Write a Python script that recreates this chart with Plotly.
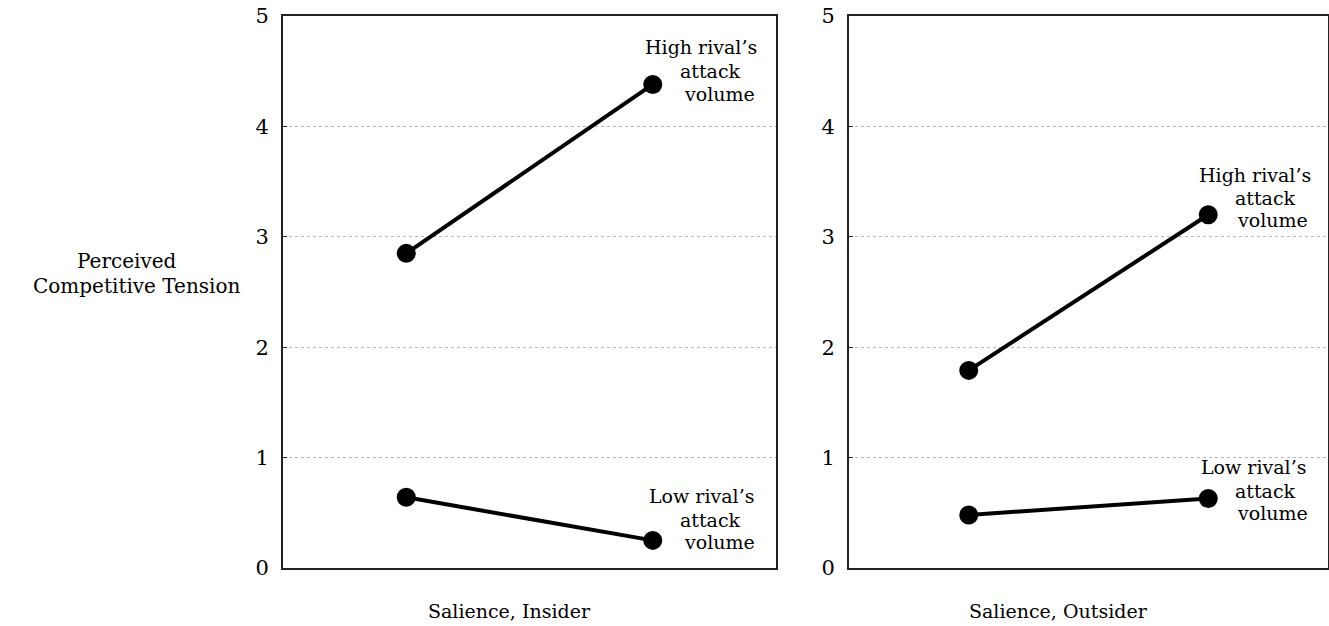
import plotly.graph_objects as go

# Data
conditions = [1, 2]  # positions of the two measurement points in each panel
insider_high = [2.85, 4.38]
insider_low = [0.64, 0.25]
outsider_high = [1.79, 3.20]
outsider_low = [0.48, 0.63]
y_ticks = [0, 1, 2, 3, 4, 5]

W, H = 1329, 626
FONT = "DejaVu Serif"

fig = go.Figure()

def add_series(xref, yref, ys):
    fig.add_trace(go.Scatter(
        x=conditions, y=ys, mode="lines+markers",
        xaxis=xref, yaxis=yref,
        line=dict(color="black", width=4),
        marker=dict(color="black", size=19),
        showlegend=False, hoverinfo="skip"))

add_series("x", "y", insider_high)
add_series("x", "y", insider_low)
add_series("x2", "y2", outsider_high)
add_series("x2", "y2", outsider_low)

y_dom = [(H - 568) / H, (H - 16) / H]
xd1 = [283 / W, 776 / W]
xd2 = [849 / W, 1328 / W]

xaxis_common = dict(range=[0.5, 2.5], showgrid=False, zeroline=False,
                    showticklabels=False, ticks="", showline=True,
                    linecolor="#222", linewidth=1.8, mirror=True,
                    automargin=False)
yaxis_common = dict(range=[0, 5], tickvals=y_ticks, showgrid=True,
                    gridcolor="#b8b8b8", griddash="dot", gridwidth=1,
                    zeroline=False, showline=True, linecolor="#222",
                    linewidth=1.8, mirror=True, ticks="inside", ticklen=4,
                    tickcolor="#222", ticklabelstandoff=8, automargin=False,
                    tickfont=dict(family=FONT, size=21, color="black"))

fig.update_layout(
    width=W, height=H,
    margin=dict(l=0, r=0, t=0, b=0, autoexpand=False),
    paper_bgcolor="white", plot_bgcolor="white",
    xaxis=dict(domain=xd1, **xaxis_common),
    yaxis=dict(domain=y_dom, anchor="x", **yaxis_common),
    xaxis2=dict(domain=xd2, anchor="y2", **xaxis_common),
    yaxis2=dict(domain=y_dom, anchor="x2", **yaxis_common),
)

def px_to_x(px, d):
    x0, x1 = d[0] * W, d[1] * W
    return 0.5 + (px - x0) / (x1 - x0) * 2.0

def py_to_y(py):
    return (568 - py) / 110.4

labels = [
    # text, pixel center x, pixel center y, panel
    ("High rival\u2019s", 701, 47, 1), ("attack", 710, 71, 1), ("volume", 719, 94, 1),
    ("Low rival\u2019s", 701, 496, 1), ("attack", 710, 520, 1), ("volume", 719, 542, 1),
    ("High rival\u2019s", 1255, 175, 2), ("attack", 1265, 198, 2), ("volume", 1272, 220, 2),
    ("Low rival\u2019s", 1253, 467, 2), ("attack", 1265, 491, 2), ("volume", 1272, 513, 2),
]
for text, px, py, panel in labels:
    d = xd1 if panel == 1 else xd2
    fig.add_annotation(text=text, x=px_to_x(px, d), y=py_to_y(py),
                       xref="x" if panel == 1 else "x2",
                       yref="y" if panel == 1 else "y2",
                       showarrow=False, xanchor="center", yanchor="middle",
                       font=dict(family=FONT, size=19, color="black"))

paper_texts = [
    ("Salience, Insider", 509, 611, 19),
    ("Salience, Outsider", 1058, 611, 19),
    ("Perceived", 127, 261, 20),
    ("Competitive Tension", 137, 286, 20),
]
for text, px, py, size in paper_texts:
    fig.add_annotation(text=text, x=px / W, y=1 - py / H, xref="paper", yref="paper",
                       showarrow=False, xanchor="center", yanchor="middle",
                       font=dict(family=FONT, size=size, color="black"))

fig.write_html("out.html", config={"displayModeBar": False},
               post_script="document.body.style.margin='0';document.body.style.padding='0';")
